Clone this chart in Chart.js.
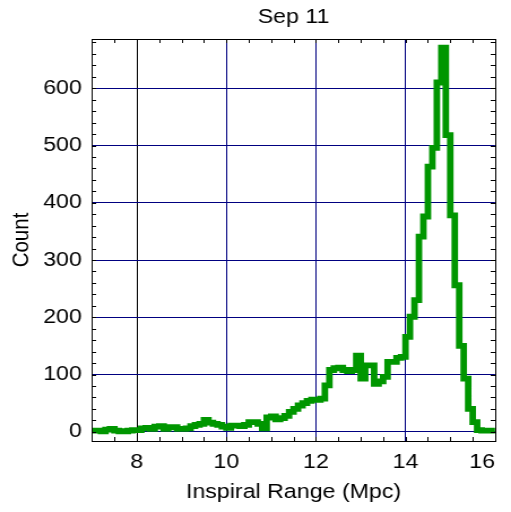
<!DOCTYPE html>
<html><head><meta charset="utf-8">
<script src="https://cdn.jsdelivr.net/npm/chart.js@4/dist/chart.umd.min.js"></script>
<style>html,body{margin:0;padding:0;background:#fff;overflow:hidden}</style>
</head><body>
<canvas id="c" width="452" height="512" style="display:block;width:511px;height:512px"></canvas>
<script>
// ---- data ----
const TITLE = 'Sep 11';
const X_LABEL = 'Inspiral Range (Mpc)';
const Y_LABEL = 'Count';
// histogram bin edges (Mpc)
const BIN_EDGES = [
  7.0,7.1,7.2,7.3,7.4,7.5,7.6,7.7,7.8,7.9,
  8.0,8.1,8.2,8.3,8.4,8.5,8.6,8.7,8.8,8.9,
  9.0,9.1,9.2,9.3,9.4,9.5,9.6,9.7,9.8,9.9,
  10.0,10.1,10.2,10.3,10.4,10.5,10.6,10.7,10.8,10.9,
  11.0,11.1,11.2,11.3,11.4,11.5,11.6,11.7,11.8,11.9,
  12.0,12.1,12.2,12.3,12.4,12.5,12.6,12.7,12.8,12.9,
  13.0,13.1,13.2,13.3,13.4,13.5,13.6,13.7,13.8,13.9,
  14.0,14.1,14.2,14.3,14.4,14.5,14.6,14.7,14.8,14.9,
  15.0,15.1,15.2,15.3,15.4,15.5,15.6,15.7,15.8,15.9,
  16.0
];
// counts per bin
const COUNTS = [
  2,2,1,4,5,2,1,1,2,3,
  3,6,7,5,9,10,5,8,8,5,
  5,6,10,12,14,21,16,14,12,9,
  7,11,11,10,12,17,17,14,6,25,
  27,22,24,28,35,40,46,50,54,56,
  56,58,81,108,111,112,108,106,108,133,
  93,116,116,84,88,96,122,122,129,131,
  166,201,230,341,376,463,496,610,671,518,
  378,256,150,93,40,17,3,2,2,2
];
const X_TICKS = [8,10,12,14,16];
const Y_TICKS = [0,100,200,300,400,500,600];
const X_RANGE = [7,16];
const Y_RANGE = [-16,686];
const X_MINOR = 0.5;
const Y_MINOR = 20;
const BLACK_GRID_X = 8;

// ---- styles ----
const FONT = "'Liberation Sans', Arial, Helvetica, sans-serif";
const FS = 20.5;
const GREEN = '#009600';
const NAVY = '#000080';

const points = BIN_EDGES.map((e, i) => ({x: e, y: COUNTS[Math.min(i, COUNTS.length - 1)]}));

const frame = {
  id: 'frame',
  afterDatasetsDraw(chart) {
    const {ctx, chartArea: a, scales: {x, y}} = chart;
    ctx.save();
    ctx.strokeStyle = '#000';
    ctx.lineWidth = 1;
    ctx.beginPath();
    const L = Math.round(a.left), R = Math.round(a.right), T = Math.round(a.top), B = Math.round(a.bottom);
    for (let k = 1; X_RANGE[0] + k * X_MINOR < X_RANGE[1] - 1e-9; k++) {
      const px = Math.round(x.getPixelForValue(X_RANGE[0] + k * X_MINOR)) + 0.5;
      ctx.moveTo(px, B); ctx.lineTo(px, B - 4);
      ctx.moveTo(px, T); ctx.lineTo(px, T + 4);
    }
    for (let v = 0; v < Y_RANGE[1]; v += Y_MINOR) {
      const py = Math.round(y.getPixelForValue(v)) + 0.5;
      ctx.moveTo(L, py); ctx.lineTo(L + 4, py);
      ctx.moveTo(R, py); ctx.lineTo(R - 4, py);
    }
    ctx.stroke();
    ctx.strokeRect(L + 0.5, T + 0.5, R - L, B - T);
    ctx.restore();
  }
};

Chart.defaults.color = '#000';
Chart.defaults.font.family = FONT;

new Chart(document.getElementById('c'), {
  type: 'line',
  data: {
    datasets: [{
      data: points,
      stepped: 'before',
      borderColor: GREEN,
      backgroundColor: GREEN,
      borderWidth: 5.8,
      pointRadius: 0,
      fill: false,
      borderJoinStyle: 'miter',
      borderCapStyle: 'butt'
    }]
  },
  options: {
    responsive: false,
    devicePixelRatio: 1,
    animation: false,
    layout: {padding: {left: 0, right: 14.1, top: 0, bottom: 0}},
    plugins: {
      legend: {display: false},
      tooltip: {enabled: false},
      title: {
        display: true, text: TITLE, fullSize: false,
        font: {size: FS, weight: 'normal', family: FONT},
        color: '#000',
        padding: {top: 4.7, bottom: 9.7}
      }
    },
    scales: {
      x: {
        type: 'linear', min: X_RANGE[0], max: X_RANGE[1],
        afterBuildTicks: s => { s.ticks = [{value: X_RANGE[0]}].concat(X_TICKS.map(v => ({value: v}))); },
        afterFit: s => { s.height = 71; },
        ticks: {
          font: {size: FS}, color: '#000', padding: 8.7, align: 'inner', maxRotation: 0,
          autoSkip: false,
          callback: v => X_TICKS.includes(v) ? String(v) : ''
        },
        grid: {
          drawTicks: false, lineWidth: 1,
          color: c => {
            const v = c.tick ? c.tick.value : null;
            if (v === X_RANGE[0] || v === X_RANGE[1]) return 'rgba(0,0,0,0)';
            return v === BLACK_GRID_X ? '#000' : NAVY;
          }
        },
        border: {display: false},
        title: {display: true, text: X_LABEL, font: {size: FS}, color: '#000', padding: {top: 0, bottom: 7.7}}
      },
      y: {
        type: 'linear', min: Y_RANGE[0], max: Y_RANGE[1],
        afterBuildTicks: s => { s.ticks = Y_TICKS.map(v => ({value: v})); },
        afterFit: s => { s.width = 81.4; },
        ticks: {font: {size: FS}, color: '#000', padding: 9, autoSkip: false},
        grid: {drawTicks: false, lineWidth: 1, color: NAVY},
        border: {display: false},
        title: {display: true, text: Y_LABEL, font: {size: FS}, color: '#000', padding: {top: 7.2, bottom: 0}}
      }
    }
  },
  plugins: [frame]
});
</script>
</body></html>
